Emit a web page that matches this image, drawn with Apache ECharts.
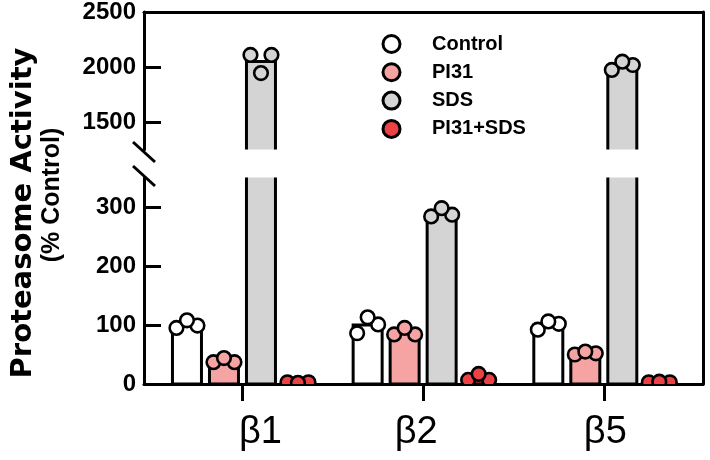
<!DOCTYPE html>
<html><head><meta charset="utf-8">
<script src="https://cdn.jsdelivr.net/npm/echarts@6/dist/echarts.min.js"></script>
<style>html,body{margin:0;padding:0;background:#fff}#c{width:710px;height:460px}</style>
</head><body><div id="c"></div>
<script>
// ---- data ----
const categories = ['β1', 'β2', 'β5'];
const seriesNames = ['Control', 'PI31', 'SDS', 'PI31+SDS'];
const barControl = [100, 100, 100];
const barPI31 = [39, 87, 52];
const barSDS = [2050, 290, 2013];
const barPI31SDS = [3, 10, 3];
// individual replicates (left, middle, right)
const ptsControl = [[95, 108, 99], [86, 113, 101], [92, 106, 102]];
const ptsPI31 = [[37, 44, 37], [84, 95, 84], [50, 55, 52]];
const ptsSDS = [[2110, 1945, 2110], [284, 298, 287], [1973, 2048, 2018]];
const ptsPI31SDS = [[3, 2, 3], [7, 17, 7], [3, 4, 3]];
const yTopLabels = [1500, 2000, 2500];
const yTopTicks = [1500, 2000];
const yBottomLabels = [0, 100, 200, 300];
const yBottomTicks = [100, 200, 300];

// ---- style ----
const colors = ['#FFFFFF', '#F5A3A3', '#D4D4D4', '#EC4245'];
const SLOT = 37, BW = 29, DOTOFF = [-10.5, 10.5, 0], DOTR = 6.8;
const bars = [barControl, barPI31, barSDS, barPI31SDS];
const pts = [ptsControl, ptsPI31, ptsSDS, ptsPI31SDS];

function makeRender(k) {
  return function (params, api) {
    const xi = api.value(0), v = api.value(1);
    const base = api.coord([xi, 0]);
    const top = api.coord([xi, v]);
    const cx = base[0] + (k - 1.5) * SLOT;
    const children = [{
      type: 'rect',
      shape: { x: cx - BW / 2, y: top[1], width: BW, height: base[1] - top[1] },
      style: { fill: colors[k], stroke: '#000', lineWidth: 3 }
    }];
    const order = [0, 2, 1];
    for (let j = 0; j < 3; j++) {
      const idx = order[j];
      const p = api.coord([xi, api.value(2 + idx)]);
      children.push({
        type: 'circle',
        shape: { cx: cx + DOTOFF[j], cy: p[1], r: DOTR },
        style: { fill: colors[k], stroke: '#000', lineWidth: 2.6 }
      });
    }
    return { type: 'group', children };
  };
}

const series = [];
[0, 1].forEach(g => {
  for (let k = 0; k < 4; k++) {
    series.push({
      type: 'custom', name: seriesNames[k],
      xAxisIndex: g, yAxisIndex: g, clip: true,
      itemStyle: { color: colors[k], borderColor: '#000', borderWidth: 3 },
      encode: { x: 0, y: 1 },
      renderItem: makeRender(k),
      data: categories.map((c, i) => [i + 1, bars[k][i], pts[k][i][0], pts[k][i][1], pts[k][i][2]])
    });
  }
});

const axisLine = { show: true, onZero: false, lineStyle: { color: '#000', width: 3 } };
const xMin = 0.455, xMax = 3.549;
const yLabelStyle = { color: '#000', fontFamily: 'Liberation Sans, Arial', fontWeight: 'bold', fontSize: 24, margin: 8,
  formatter: function (v) { return String(v); } };

const option = {
  animation: false,
  backgroundColor: '#fff',
  grid: [
    { left: 144, right: 7, top: 12, height: 137.5 },
    { left: 144, right: 7, top: 177.5, bottom: 76 },
    { left: 144, right: 7, top: 12, bottom: 76 }
  ],
  xAxis: [
    { gridIndex: 0, type: 'value', min: xMin, max: xMax, position: 'top',
      axisLine: axisLine, axisTick: { show: false }, axisLabel: { show: false }, splitLine: { show: false } },
    { gridIndex: 1, type: 'value', min: xMin, max: xMax, position: 'bottom',
      axisLine: axisLine,
      axisTick: { show: true, customValues: [1, 2, 3], length: 17, lineStyle: { color: '#000', width: 3 } },
      axisLabel: {
        customValues: [1, 2, 3], margin: 30, color: '#000',
        formatter: function (v) { const i = Math.round(v) - 1; return '{l' + i + '|' + categories[i] + '}'; },
        rich: {
          l0: { fontSize: 38, fontFamily: 'Liberation Sans, Arial', color: '#000', padding: [0, 0, 0, 36] },
          l1: { fontSize: 38, fontFamily: 'Liberation Sans, Arial', color: '#000', padding: [0, 14, 0, 0] },
          l2: { fontSize: 38, fontFamily: 'Liberation Sans, Arial', color: '#000', padding: [0, 0, 0, 3] }
        }
      },
      splitLine: { show: false } },
    { gridIndex: 2, type: 'value', show: false, min: 0, max: 1 }
  ],
  yAxis: [
    { gridIndex: 0, type: 'value', min: 1250, max: 2500,
      axisLine: axisLine,
      axisTick: { show: true, inside: true, length: 17, customValues: yTopTicks, lineStyle: { color: '#000', width: 3 } },
      axisLabel: Object.assign({ customValues: yTopLabels }, yLabelStyle),
      splitLine: { show: false } },
    { gridIndex: 1, type: 'value', min: 0, max: 350,
      axisLine: axisLine,
      axisTick: { show: true, inside: true, length: 17, customValues: yBottomTicks, lineStyle: { color: '#000', width: 3 } },
      axisLabel: Object.assign({ customValues: yBottomLabels }, yLabelStyle),
      splitLine: { show: false } },
    { gridIndex: 2, type: 'value', min: 0, max: 1, position: 'right',
      axisLine: axisLine, axisTick: { show: false }, axisLabel: { show: false }, splitLine: { show: false } }
  ],
  legend: {
    data: seriesNames.map((n, i) => ({ name: n, icon: 'circle',
      itemStyle: { color: colors[i], borderColor: '#000', borderWidth: 3 } })),
    orient: 'vertical', left: 376.5, top: 29, padding: 5, itemWidth: 17, itemHeight: 17, itemGap: 8.3,
    selectedMode: false,
    textStyle: { fontFamily: 'Liberation Sans, Arial', fontWeight: 'bold',
      fontSize: 20, color: '#000', padding: [0, 0, 0, 27] }
  },
  graphic: [
    { type: 'text', x: 23, y: 213, rotation: Math.PI / 2,
      style: { text: 'Proteasome Activity', fontSize: 29, fontWeight: 'bold', fontFamily: 'DejaVu Sans', fill: '#000',
        align: 'center', verticalAlign: 'middle' } },
    { type: 'text', x: 52, y: 195, rotation: Math.PI / 2,
      style: { text: '(% Control)', fontSize: 25, fontWeight: 'bold', fontFamily: 'Liberation Sans', fill: '#000',
        align: 'center', verticalAlign: 'middle' } },
    { type: 'line', shape: { x1: 133, y1: 142, x2: 155, y2: 162 }, style: { stroke: '#000', lineWidth: 3 } },
    { type: 'line', shape: { x1: 133, y1: 166, x2: 155, y2: 186 }, style: { stroke: '#000', lineWidth: 3 } }
  ],
  series: series
};
const chart = echarts.init(document.getElementById('c'), null, { renderer: 'canvas' });
chart.setOption(option);
</script></body></html>
